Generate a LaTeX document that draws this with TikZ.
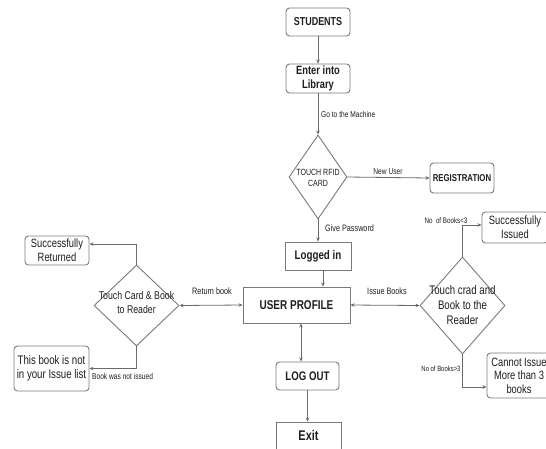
\documentclass[tikz,border=0pt]{standalone}
\usepackage{fontspec}
\setmainfont{Liberation Sans}[FakeStretch=0.78]
\usetikzlibrary{shapes.geometric,arrows.meta,positioning}
\definecolor{linec}{HTML}{6A6A6A}
\definecolor{boxc}{HTML}{7A7A7A}
\definecolor{txtc}{HTML}{1E1E1E}
\newcommand\fsz[2]{\fontsize{#1}{#2}\selectfont}
\begin{document}
\begin{tikzpicture}[x=1pt,y=-1pt,
  rbox/.style={draw=boxc, rounded corners=3.5pt, line width=0.9pt, inner sep=0pt, align=center, text=txtc},
  sbox/.style={draw=boxc, line width=0.9pt, inner sep=0pt, align=center, text=txtc},
  dia/.style={draw=boxc, diamond, line width=0.9pt, inner sep=0pt},
  dtext/.style={align=center, inner sep=0pt, text=txtc},
  lbl/.style={inner sep=0pt, text=txtc, font=\fsz{8.5}{10}},
  conn/.style={draw=linec, line width=0.8pt, -{Stealth[length=4pt,width=3.5pt]}},
  dconn/.style={draw=linec, line width=0.8pt, {Stealth[length=4pt,width=3.5pt]}-{Stealth[length=4pt,width=3.5pt]}},
  plain/.style={draw=linec, line width=0.8pt}
]
\useasboundingbox[fill=white] (0,0) rectangle (546,448);

% main column
\node[rbox, minimum width=64pt, minimum height=28pt, font=\bfseries\fsz{11.5}{13}] (stud) at (318,22) {STUDENTS};
\node[rbox, minimum width=64pt, minimum height=29pt, font=\bfseries\fsz{12}{14}] (enter) at (318,78.5) {Enter into\\Library};
\node[dia, minimum width=58pt, minimum height=84pt] (rfid) at (318,177) {};
\node[dtext, font=\fsz{9}{10.5}] (rfidt) at (318,178) {TOUCH RFID\\CARD};
\node[rbox, minimum width=64pt, minimum height=30pt, font=\bfseries\fsz{10}{12}] (reg) at (462,178) {REGISTRATION};
\node[sbox, minimum width=66pt, minimum height=28pt, font=\bfseries\fsz{12.5}{14}] (logged) at (318,256) {Logged in};
\node[sbox, minimum width=107pt, minimum height=36pt, font=\bfseries\fsz{12.8}{14}] (up) at (296.5,305) {USER PROFILE};
\node[rbox, minimum width=63pt, minimum height=28pt, font=\bfseries\fsz{12.4}{14}] (logout) at (307.5,376) {LOG OUT};
\node[sbox, minimum width=65pt, minimum height=34pt, font=\bfseries\fsz{14}{16}, text depth=0pt] (exit) at (308.5,439) {};
\node[dtext, font=\bfseries\fsz{14}{16}] (exitt) at (308.5,435) {Exit};

% left branch
\node[dia, minimum width=85pt, minimum height=81pt] (ld) at (136.5,305.5) {};
\node[dtext, font=\fsz{11.2}{14}] (ldt) at (136.5,302.5) {Touch Card \& Book\\to Reader};
\node[rbox, minimum width=64pt, minimum height=29pt, font=\fsz{12}{14}] (sret) at (57,250.5) {Successfully\\Returned};
\node[rbox, minimum width=75pt, minimum height=45pt, font=\fsz{12.4}{14}] (notlist) at (51.5,368.5) {This book is not\\in your Issue list};

% right branch
\node[dia, minimum width=85pt, minimum height=97pt] (rd) at (462.5,305.5) {};
\node[dtext, font=\fsz{12.4}{15}] (rdt) at (462.5,305) {Touch crad and\\Book to the\\Reader};
\node[rbox, minimum width=66pt, minimum height=31pt, font=\fsz{12}{14}] (siss) at (515,227.5) {Successfully\\Issued};
\node[rbox, minimum width=64pt, minimum height=45pt, font=\fsz{12}{13.5}] (cannot) at (519,375.5) {Cannot Issue\\More than 3\\books};

% connectors
\draw[conn] (stud.south) -- (enter.north);
\draw[conn] (enter.south) -- (rfid.north);
\draw[conn] (rfid.east) -- (reg.west);
\draw[conn] (rfid.south) -- (logged.north);
\draw[conn] ([xshift=5pt]logged.south) -- ([xshift=5pt]logged.south |- up.north);
\draw[dconn] ([xshift=4.5pt]up.south) -- ([xshift=4.5pt]up.south |- logout.north);
\draw[conn] (logout.south) -- (logout.south |- exit.north);
\draw[dconn] (ld.east) -- (up.west);
\draw[dconn] (up.east) -- (rd.west);
\coordinate (sretin) at ([yshift=6.5pt]sret.east);
\draw[conn] (ld.north) |- (sretin);
\draw[conn] (ld.south) |- (notlist.east);
\coordinate (sissin) at ([yshift=2.5pt]siss.west);
\draw[conn] (rd.north) |- (sissin);
\coordinate (cannotin) at ([yshift=-11.5pt]cannot.west);
\draw[conn] (rd.south) |- (cannotin);

% labels
\node[lbl, anchor=west] (l1) at (321,114) {Go to the Machine};
\node[lbl] (l2) at (388,172) {New User};
\node[lbl, anchor=west, font=\fsz{9.3}{11}] (l3) at (325,228) {Give Password};
\node[lbl, font=\fsz{9.3}{11}] (l4) at (212,291) {Return book};
\node[lbl, font=\fsz{9.3}{11}] (l5) at (387,291) {Issue Books};
\node[lbl, anchor=west] (l6) at (92,376) {Book was not issued};
\node[lbl, font=\fsz{8}{10}] (l7) at (446,221) {No\ \ of Books<3};
\node[lbl, font=\fsz{7.6}{10}] (l8) at (441,369) {No of Books>3};
\end{tikzpicture}
\end{document}
